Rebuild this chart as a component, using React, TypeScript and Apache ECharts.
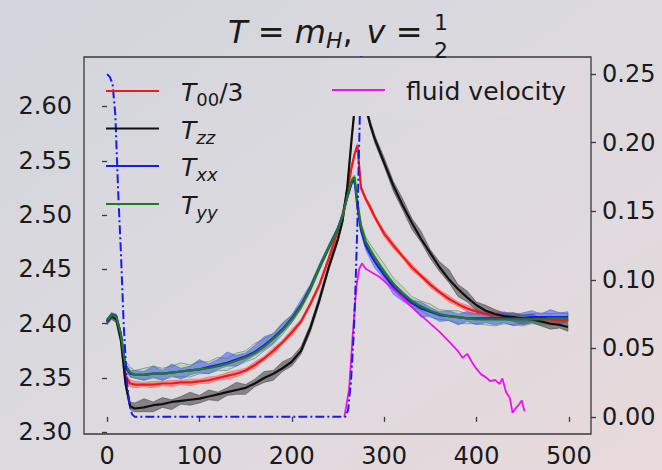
import React, { useEffect, useRef } from "react";
import * as echarts from "echarts";

// ---------- data ----------
const TIME = [0, 5, 10, 15, 20, 25, 30, 40, 50, 60, 70, 80, 90, 100, 110, 120, 130, 140, 150, 160, 170, 180, 190, 200, 210, 220, 230, 240, 250, 255, 260, 265, 268, 271, 275, 280, 285, 290, 300, 310, 320, 330, 340, 350, 360, 370, 380, 390, 400, 410, 420, 430, 440, 450, 460, 470, 480, 490, 499];

const T00_3 = [2.402, 2.407, 2.405, 2.388, 2.352, 2.345, 2.344, 2.344, 2.344, 2.345,
  2.345, 2.346, 2.346, 2.347, 2.348, 2.350, 2.352, 2.354, 2.357, 2.362,
  2.368, 2.375, 2.383, 2.392, 2.402, 2.418, 2.436, 2.460, 2.486, 2.500,
  2.522, 2.545, 2.556, 2.564, 2.525, 2.515, 2.507, 2.498, 2.483, 2.472,
  2.462, 2.452, 2.444, 2.436, 2.429, 2.423, 2.418, 2.414, 2.411, 2.409,
  2.408, 2.407, 2.406, 2.405, 2.405, 2.404, 2.404, 2.403, 2.403];
const T00_SPREAD = [0.002, 0.002, 0.002, 0.002, 0.002, 0.003, 0.003, 0.002, 0.003, 0.002,
  0.003, 0.002, 0.003, 0.002, 0.003, 0.002, 0.003, 0.003, 0.002, 0.003,
  0.002, 0.003, 0.002, 0.003, 0.002, 0.002, 0.002, 0.002, 0.002, 0.002,
  0.002, 0.002, 0.002, 0.002, 0.002, 0.002, 0.003, 0.002, 0.003, 0.003,
  0.002, 0.003, 0.002, 0.003, 0.002, 0.003, 0.002, 0.003, 0.002, 0.002,
  0.003, 0.002, 0.002, 0.003, 0.002, 0.002, 0.003, 0.002, 0.002];

const TZZ = [2.402, 2.407, 2.404, 2.385, 2.345, 2.324, 2.322, 2.323, 2.325, 2.326,
  2.328, 2.329, 2.330, 2.331, 2.333, 2.335, 2.337, 2.339, 2.341, 2.345,
  2.350, 2.354, 2.359, 2.365, 2.375, 2.396, 2.422, 2.452, 2.478, 2.495,
  2.525, 2.572, 2.598, 2.625, 2.640, 2.600, 2.583, 2.570, 2.548, 2.527,
  2.509, 2.493, 2.478, 2.465, 2.452, 2.441, 2.432, 2.424, 2.417, 2.412,
  2.409, 2.407, 2.406, 2.405, 2.404, 2.402, 2.400, 2.399, 2.397];
const TZZ_UP = [0.003, 0.003, 0.003, 0.004, 0.004, 0.004, 0.005, 0.008, 0.003, 0.006,
  0.002, 0.004, 0.007, 0.003, 0.006, 0.002, 0.004, 0.007, 0.003, 0.004,
  0.006, 0.003, 0.006, 0.004, 0.004, 0.003, 0.004, 0.003, 0.003, 0.003,
  0.003, 0.003, 0.003, 0.003, 0.003, 0.003, 0.004, 0.003, 0.005, 0.004,
  0.006, 0.004, 0.007, 0.003, 0.005, 0.009, 0.004, 0.006, 0.003, 0.005,
  0.004, 0.003, 0.004, 0.003, 0.005, 0.003, 0.004, 0.006, 0.003];
const TZZ_DN = [0.003, 0.003, 0.003, 0.004, 0.004, 0.003, 0.003, 0.004, 0.006, 0.003,
  0.007, 0.003, 0.005, 0.004, 0.003, 0.006, 0.003, 0.004, 0.006, 0.003,
  0.004, 0.006, 0.003, 0.004, 0.003, 0.004, 0.003, 0.003, 0.003, 0.003,
  0.003, 0.003, 0.003, 0.003, 0.003, 0.003, 0.003, 0.004, 0.003, 0.005,
  0.004, 0.006, 0.003, 0.005, 0.004, 0.003, 0.007, 0.004, 0.005, 0.003,
  0.005, 0.003, 0.004, 0.006, 0.003, 0.004, 0.005, 0.003, 0.004];

const TXX = [2.402, 2.408, 2.407, 2.390, 2.360, 2.354, 2.353, 2.353, 2.354, 2.354,
  2.355, 2.356, 2.357, 2.358, 2.360, 2.362, 2.364, 2.367, 2.370, 2.374,
  2.380, 2.387, 2.395, 2.405, 2.417, 2.433, 2.452, 2.470, 2.488, 2.500,
  2.516, 2.530, 2.532, 2.508, 2.486, 2.472, 2.464, 2.457, 2.445, 2.434,
  2.426, 2.419, 2.414, 2.411, 2.408, 2.407, 2.406, 2.405, 2.405, 2.405,
  2.405, 2.405, 2.405, 2.405, 2.406, 2.406, 2.406, 2.406, 2.406];
const TXX_UP = [0.002, 0.002, 0.002, 0.003, 0.003, 0.003, 0.004, 0.003, 0.007, 0.003,
  0.008, 0.003, 0.004, 0.009, 0.003, 0.005, 0.010, 0.004, 0.003, 0.006,
  0.008, 0.004, 0.006, 0.003, 0.005, 0.003, 0.003, 0.003, 0.002, 0.002,
  0.002, 0.002, 0.002, 0.002, 0.003, 0.003, 0.004, 0.003, 0.005, 0.003,
  0.004, 0.003, 0.006, 0.004, 0.003, 0.005, 0.003, 0.006, 0.004, 0.007,
  0.004, 0.006, 0.003, 0.005, 0.006, 0.003, 0.007, 0.004, 0.005];
const TXX_DN = [0.002, 0.002, 0.002, 0.003, 0.003, 0.003, 0.003, 0.005, 0.003, 0.006,
  0.003, 0.007, 0.004, 0.003, 0.006, 0.004, 0.003, 0.006, 0.004, 0.003,
  0.004, 0.005, 0.003, 0.004, 0.003, 0.003, 0.003, 0.002, 0.002, 0.002,
  0.002, 0.002, 0.002, 0.002, 0.003, 0.004, 0.005, 0.006, 0.004, 0.007,
  0.005, 0.004, 0.008, 0.004, 0.006, 0.004, 0.007, 0.003, 0.006, 0.004,
  0.006, 0.004, 0.007, 0.005, 0.004, 0.006, 0.003, 0.005, 0.004];

const TYY = [2.403, 2.408, 2.406, 2.390, 2.362, 2.355, 2.353, 2.353, 2.354, 2.354,
  2.355, 2.356, 2.357, 2.358, 2.359, 2.361, 2.363, 2.366, 2.369, 2.373,
  2.379, 2.386, 2.394, 2.404, 2.416, 2.432, 2.452, 2.470, 2.487, 2.499,
  2.517, 2.532, 2.535, 2.512, 2.490, 2.476, 2.468, 2.461, 2.448, 2.437,
  2.428, 2.421, 2.416, 2.412, 2.409, 2.407, 2.406, 2.405, 2.404, 2.404,
  2.404, 2.404, 2.404, 2.404, 2.404, 2.404, 2.405, 2.405, 2.405];
const TYY_UP = [0.002, 0.002, 0.002, 0.003, 0.004, 0.005, 0.004, 0.006, 0.007, 0.005,
  0.006, 0.008, 0.005, 0.007, 0.006, 0.008, 0.005, 0.007, 0.006, 0.009,
  0.007, 0.005, 0.006, 0.004, 0.003, 0.003, 0.003, 0.002, 0.002, 0.002,
  0.002, 0.002, 0.002, 0.003, 0.003, 0.004, 0.005, 0.006, 0.007, 0.005,
  0.006, 0.004, 0.005, 0.006, 0.004, 0.005, 0.006, 0.004, 0.005, 0.006,
  0.004, 0.005, 0.006, 0.004, 0.005, 0.006, 0.004, 0.005, 0.004];
const TYY_DN = [0.002, 0.002, 0.002, 0.003, 0.003, 0.004, 0.003, 0.005, 0.004, 0.006,
  0.004, 0.005, 0.006, 0.004, 0.005, 0.004, 0.006, 0.005, 0.004, 0.005,
  0.004, 0.005, 0.004, 0.003, 0.003, 0.003, 0.002, 0.002, 0.002, 0.002,
  0.002, 0.002, 0.002, 0.002, 0.003, 0.003, 0.003, 0.004, 0.005, 0.004,
  0.006, 0.005, 0.004, 0.006, 0.005, 0.004, 0.006, 0.005, 0.004, 0.005,
  0.006, 0.004, 0.005, 0.006, 0.004, 0.005, 0.006, 0.005, 0.004];

// right axis series
const WALL_T = [0, 3, 6, 9, 12, 15, 18, 21, 24, 27, 30, 40, 100, 200, 250, 258, 261, 264, 267, 269, 271, 273, 275, 277];
const WALL_V = [0.25, 0.248, 0.243, 0.22, 0.165, 0.12, 0.068, 0.03, 0.01, 0.002, 0, 0, 0, 0, 0, 0, 0.005, 0.025, 0.06, 0.095, 0.14, 0.2, 0.26, 0.32];

const FLUID_T = [257, 262, 266, 270, 273, 276, 280, 285, 290, 295, 300, 310, 320, 330, 340, 350, 360, 370, 380, 385, 390, 395, 400, 405, 410, 415, 420, 425, 428, 432, 436, 439, 442, 446, 449, 452];
const FLUID_V = [0, 0.02, 0.06, 0.095, 0.108, 0.112, 0.108, 0.106, 0.104, 0.102, 0.099, 0.093, 0.087, 0.080, 0.074, 0.068, 0.062, 0.055, 0.048, 0.043, 0.046, 0.040, 0.035, 0.031, 0.029, 0.026, 0.027, 0.024, 0.028, 0.018, 0.014, 0.003, 0.006, 0.009, 0.012, 0.004];

const X_TICKS = [0, 100, 200, 300, 400, 500];
const Y_LEFT_TICKS = [2.3, 2.35, 2.4, 2.45, 2.5, 2.55, 2.6];
const Y_RIGHT_TICKS = [0, 0.05, 0.1, 0.15, 0.2, 0.25];

const TITLE_TEXT = "{ti|T}{tn| = }{ti|m}{ts|H}{tn|,}{gap| }{ti|v}{tn| =}";
const LEGEND_LEFT = [
  { label: "{i|T}{s|00}{n|/3}", color: "#f01818" },
  { label: "{i|T}{si|zz}", color: "#101010" },
  { label: "{i|T}{si|xx}", color: "#1a1aee" },
  { label: "{i|T}{si|yy}", color: "#227a22" },
];
const LEGEND_RIGHT = "fluid velocity";

// ---------- style ----------
const FONT = "DejaVu Sans";
const TEXT_COLOR = "#1a1a1a";
const FRAME = "#3a3a3a";
const BG_STOPS = [
  { offset: 0, color: "#d2d5dc" },
  { offset: 0.5, color: "#dcdadf" },
  { offset: 1, color: "#e8d9dc" },
];

function band(mean: number[], up: number[], dn: number[], fill: string, stroke: string) {
  return {
    type: "custom",
    z: 1,
    silent: true,
    clip: true,
    data: [[TIME[0], mean[0]]],
    renderItem: (_params: any, api: any) => {
      const top = TIME.map((t, i) => api.coord([t, mean[i] + up[i]]));
      const bot = TIME.map((t, i) => api.coord([t, mean[i] - dn[i]])).reverse();
      return {
        type: "polygon",
        shape: { points: top.concat(bot) },
        style: { fill, stroke, lineWidth: 0.9 },
      };
    },
  };
}

function line(values: number[], color: string, width = 2.2) {
  return {
    type: "line",
    z: 2,
    symbol: "none",
    silent: true,
    data: TIME.map((t, i) => [t, values[i]]),
    lineStyle: { color, width },
  };
}

export default function App() {
  const ref = useRef<HTMLDivElement>(null);
  useEffect(() => {
    if (!ref.current) return;
    const chart = echarts.init(ref.current, null, { renderer: "svg" });

    const legendRich = {
      i: { fontFamily: FONT, fontSize: 25, fontStyle: "italic", lineHeight: 32, verticalAlign: "middle", fill: TEXT_COLOR },
      n: { fontFamily: FONT, fontSize: 25, lineHeight: 32, verticalAlign: "middle", fill: TEXT_COLOR },
      s: { fontFamily: FONT, fontSize: 18, lineHeight: 18, verticalAlign: "bottom", fill: TEXT_COLOR },
      si: { fontFamily: FONT, fontSize: 18, fontStyle: "italic", lineHeight: 18, verticalAlign: "bottom", fill: TEXT_COLOR },
    };
    const rows = [91, 128.5, 166, 204];
    const legendEls: any[] = [];
    LEGEND_LEFT.forEach((it, k) => {
      legendEls.push({
        type: "line",
        z: 11,
        shape: { x1: 106, y1: rows[k], x2: 159, y2: rows[k] },
        style: { stroke: it.color, lineWidth: 2.2 },
      });
      legendEls.push({
        type: "text",
        z: 11,
        x: 181,
        y: rows[k] + 1.5,
        style: { text: it.label, rich: legendRich, verticalAlign: "middle", fill: TEXT_COLOR, font: `25px '${FONT}'` },
      });
    });

    const option: any = {
      animation: false,
      backgroundColor: { type: "linear", x: 0, y: 0, x2: 1, y2: 1, colorStops: BG_STOPS },
      grid: {
        left: 84,
        right: 71,
        top: 57,
        bottom: 36,
        show: true,
        borderColor: FRAME,
        borderWidth: 1.3,
        backgroundColor: "transparent",
      },
      xAxis: {
        type: "value",
        min: -24.95,
        max: 523.95,
        splitLine: { show: false },
        axisLine: { show: false },
        axisTick: { show: true, customValues: X_TICKS, length: 5, lineStyle: { color: FRAME, width: 1.3 } },
        axisLabel: {
          customValues: X_TICKS,
          margin: 10,
          color: TEXT_COLOR,
          fontSize: 24,
          fontFamily: FONT,
          formatter: (v: number) => String(Math.round(v)),
        },
      },
      yAxis: [
        {
          type: "value",
          min: 2.2985,
          max: 2.6455,
          splitLine: { show: false },
          axisLine: { show: false },
          axisTick: { show: true, customValues: Y_LEFT_TICKS, length: 5, lineStyle: { color: FRAME, width: 1.3 } },
          axisLabel: {
            customValues: Y_LEFT_TICKS,
            margin: 12,
            color: TEXT_COLOR,
            fontSize: 24,
            fontFamily: FONT,
            formatter: (v: number) => v.toFixed(2),
          },
        },
        {
          type: "value",
          position: "right",
          min: -0.0125,
          max: 0.2625,
          splitLine: { show: false },
          axisLine: { show: false },
          axisTick: { show: true, customValues: Y_RIGHT_TICKS, length: 5, lineStyle: { color: FRAME, width: 1.3 } },
          axisLabel: {
            customValues: Y_RIGHT_TICKS,
            margin: 11,
            color: TEXT_COLOR,
            fontSize: 24,
            fontFamily: FONT,
            formatter: (v: number) => v.toFixed(2),
          },
        },
      ],
      series: [
        band(T00_3, T00_SPREAD, T00_SPREAD, "rgba(255,70,70,0.45)", "rgba(255,70,70,0.5)"),
        line(T00_3, "#f01818"),
        band(TZZ, TZZ_UP, TZZ_DN, "rgba(60,60,60,0.55)", "rgba(50,50,50,0.5)"),
        line(TZZ, "#101010"),
        band(TXX, TXX_UP, TXX_DN, "rgba(70,90,255,0.55)", "rgba(70,90,255,0.55)"),
        line(TXX, "#1a1aee"),
        band(TYY, TYY_UP, TYY_DN, "rgba(40,130,40,0.12)", "rgba(40,130,40,0.55)"),
        line(TYY, "#227a22"),
        {
          type: "line",
          yAxisIndex: 1,
          z: 3,
          symbol: "none",
          silent: true,
          data: FLUID_T.map((t, i) => [t, FLUID_V[i]]),
          lineStyle: { color: "#ee10ee", width: 1.8 },
        },
        {
          type: "line",
          yAxisIndex: 1,
          z: 3,
          symbol: "none",
          silent: true,
          data: WALL_T.map((t, i) => [t, WALL_V[i]]),
          lineStyle: { color: "#1a1aee", width: 2, type: [9, 3, 2, 3] },
        },
      ],
      graphic: {
        elements: [
          // legend box of the twin axes (covers the peaks, as in the original)
          {
            type: "rect",
            z: 10,
            shape: { x: 322, y: 58, width: 262, height: 58 },
            style: {
              fill: { type: "linear", x: 0, y: 0, x2: 662, y2: 470, global: true, colorStops: BG_STOPS },
            },
          },
          {
            type: "line",
            z: 11,
            shape: { x1: 332, y1: 90, x2: 385, y2: 90 },
            style: { stroke: "#ee10ee", lineWidth: 2 },
          },
          {
            type: "text",
            z: 11,
            x: 406,
            y: 91,
            style: { text: LEGEND_RIGHT, fill: TEXT_COLOR, font: `25px '${FONT}'`, verticalAlign: "middle" },
          },
          ...legendEls,
          // title
          {
            type: "text",
            z: 11,
            x: 228,
            y: 31.5,
            style: {
              text: TITLE_TEXT,
              verticalAlign: "middle",
              fill: TEXT_COLOR,
              font: `32px '${FONT}'`,
              rich: {
                ti: { fontFamily: FONT, fontSize: 32, fontStyle: "italic", lineHeight: 40, verticalAlign: "middle", fill: TEXT_COLOR },
                tn: { fontFamily: FONT, fontSize: 32, lineHeight: 40, verticalAlign: "middle", fill: TEXT_COLOR },
                gap: { fontFamily: FONT, fontSize: 44, lineHeight: 40, verticalAlign: "middle", fill: TEXT_COLOR },
                ts: { fontFamily: FONT, fontSize: 22, fontStyle: "italic", lineHeight: 22, verticalAlign: "bottom", fill: TEXT_COLOR },
              },
            },
          },
          {
            type: "text",
            z: 11,
            x: 441,
            y: 22,
            style: { text: "1", fill: TEXT_COLOR, font: `22px '${FONT}'`, align: "center", verticalAlign: "middle" },
          },
          {
            type: "text",
            z: 11,
            x: 441,
            y: 50,
            style: { text: "2", fill: TEXT_COLOR, font: `22px '${FONT}'`, align: "center", verticalAlign: "middle" },
          },
        ],
      },
    };
    chart.setOption(option);
    return () => chart.dispose();
  }, []);
  return (
    <div
      ref={ref}
      style={{ position: "fixed", left: 0, top: 0, width: 662, height: 470 }}
    />
  );
}
